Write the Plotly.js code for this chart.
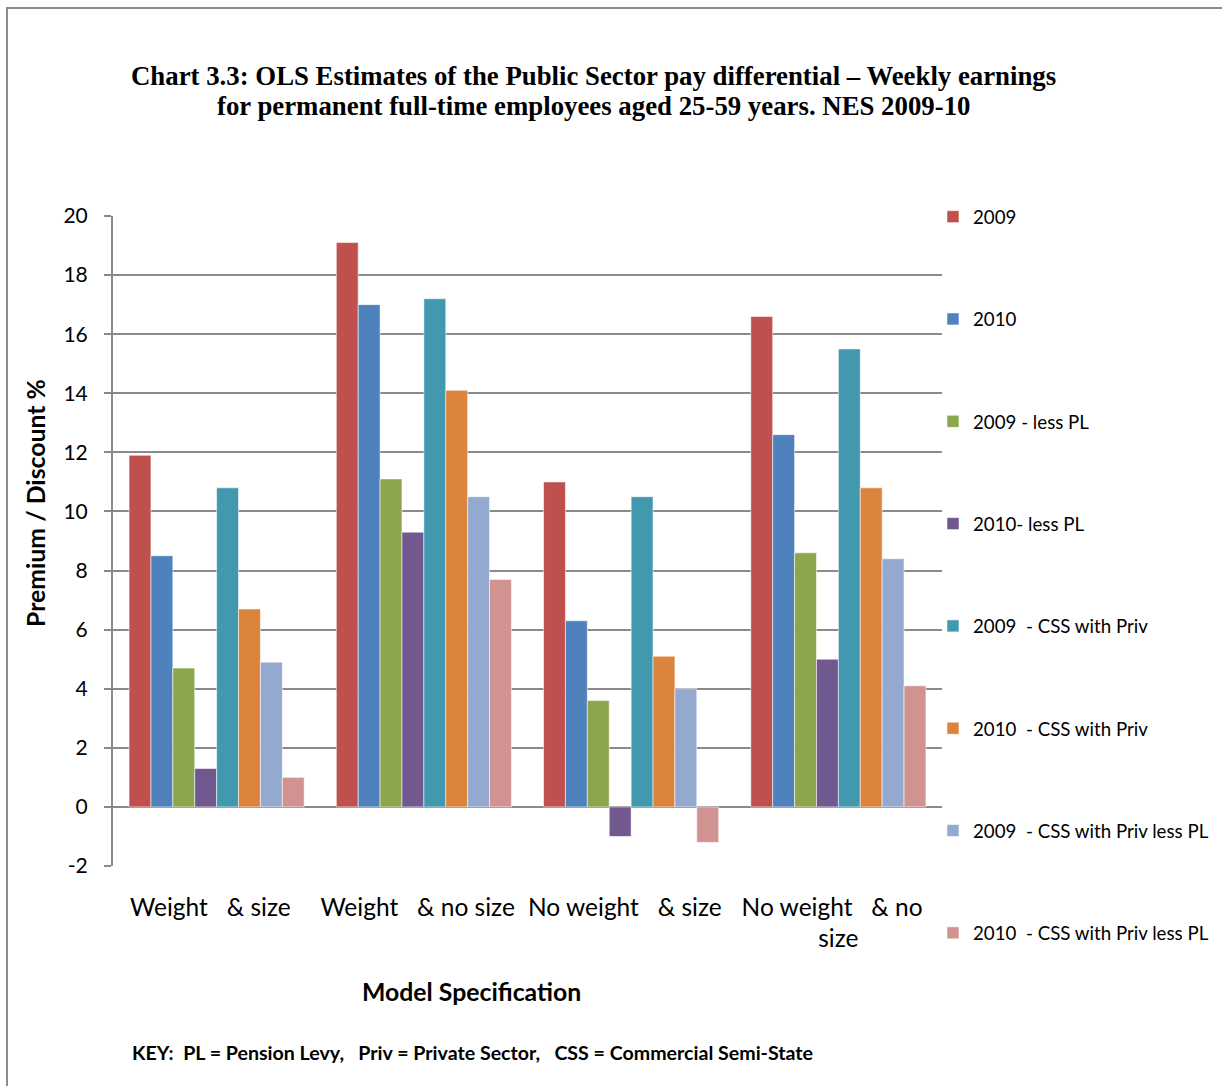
<!DOCTYPE html>
<html>
<head>
<meta charset="utf-8">
<script src="https://cdn.plot.ly/plotly-3.0.1.min.js"></script>
<style>
html,body{margin:0;padding:0;background:#fff;overflow:hidden;}
#frame{position:absolute;left:6px;top:7px;width:1400px;height:1300px;border:2px solid #8c8c8c;box-sizing:border-box;pointer-events:none;}
#chart{position:absolute;left:0;top:0;width:1222px;height:1086px;}
</style>
</head>
<body>
<div id="chart"></div>
<div id="frame"></div>
<script>
const categories = ["Weight &nbsp; & size&nbsp;&nbsp;", "Weight &nbsp; & no size&nbsp;&nbsp;", "No weight &nbsp; & size&nbsp;&nbsp;", "No weight &nbsp; & no&nbsp;&nbsp;<br>size"];
const seriesNames = ["2009", "2010", "2009 - less PL", "2010- less PL", "2009  - CSS with Priv", "2010  - CSS with Priv", "2009  - CSS with Priv less PL", "2010  - CSS with Priv less PL"];
const v2009 = [11.9, 19.1, 11.0, 16.6];
const v2010 = [8.5, 17.0, 6.3, 12.6];
const v2009LessPL = [4.7, 11.1, 3.6, 8.6];
const v2010LessPL = [1.3, 9.3, -1.0, 5.0];
const v2009CSS = [10.8, 17.2, 10.5, 15.5];
const v2010CSS = [6.7, 14.1, 5.1, 10.8];
const v2009CSSLessPL = [4.9, 10.5, 4.0, 8.4];
const v2010CSSLessPL = [1.0, 7.7, -1.2, 4.1];
const yTickVals = [-2, 0, 2, 4, 6, 8, 10, 12, 14, 16, 18, 20];
const yTickText = ["-2", "0", "2", "4", "6", "8", "10", "12", "14", "16", "18", "20"];
const titleLine1 = "Chart 3.3: OLS Estimates of the Public Sector pay differential – Weekly earnings";
const titleLine2 = "for permanent full-time employees aged 25-59 years. NES 2009-10";
const colors = ["#C0504D", "#4F81BD", "#8BA64D", "#71588F", "#4198AF", "#DB843D", "#93A9CF", "#D19392"];

const allValues = [v2009, v2010, v2009LessPL, v2010LessPL, v2009CSS, v2010CSS, v2009CSSLessPL, v2010CSSLessPL];
const traces = allValues.map((vals, i) => ({
  type: "bar",
  name: seriesNames[i],
  x: categories,
  y: vals,
  legendgroup: "g" + i,
  marker: {color: colors[i], line: {color: "rgba(255,255,255,0.55)", width: 1}},
  hoverinfo: "skip"
}));

const baseFont = "Lato, 'Open Sans', sans-serif";
const serif = "'Liberation Serif', 'Times New Roman', serif";
const px = x => (x - 113) / 829;
const py = y => (866 - y) / 650;
const layout = {
  width: 1222, height: 1086,
  paper_bgcolor: "rgba(0,0,0,0)", plot_bgcolor: "#fff",
  margin: {l: 113, r: 280, t: 216, b: 220, autoexpand: false},
  barmode: "group", bargap: 0.155, bargroupgap: 0,
  font: {family: baseFont, color: "#000"},
  showlegend: true,
  legend: {
    x: px(933), xanchor: "left", y: py(198), yanchor: "top",
    font: {family: baseFont, size: 18.7, color: "#000"},
    tracegroupgap: 75, bgcolor: "rgba(0,0,0,0)", itemwidth: 30, maxheight: 1
  },
  xaxis: {
    type: "category", showgrid: false, showline: false, ticks: "",
    tickangle: 0,
    tickfont: {family: baseFont, size: 24.5, color: "#000"},
    ticklabelstandoff: 24, fixedrange: true
  },
  yaxis: {
    range: [-2, 20], tickvals: yTickVals, ticktext: yTickText,
    showgrid: true, gridcolor: "#8a8a8a", gridwidth: 2,
    zeroline: true, zerolinecolor: "#8a8a8a", zerolinewidth: 2,
    showline: true, linecolor: "#8a8a8a", linewidth: 2,
    ticks: "outside", ticklen: 7, tickcolor: "#8a8a8a", tickwidth: 2,
    tickfont: {family: baseFont, size: 21, color: "#000"},
    ticklabelstandoff: 12, fixedrange: true
  },
  annotations: [
    {text: "<b>" + titleLine1 + "</b>",
     xref: "paper", yref: "paper", x: px(593), y: py(76), xanchor: "center", yanchor: "middle",
     showarrow: false, font: {family: serif, size: 26.8, color: "#000"}},
    {text: "<b>" + titleLine2 + "</b>",
     xref: "paper", yref: "paper", x: px(593), y: py(106), xanchor: "center", yanchor: "middle",
     showarrow: false, font: {family: serif, size: 26.8, color: "#000"}},
    {text: "<b>Premium / Discount %</b>", textangle: -90,
     xref: "paper", yref: "paper", x: px(35), y: py(503), xanchor: "center", yanchor: "middle",
     showarrow: false, font: {family: baseFont, size: 24.8, color: "#000"}},
    {text: "<b>Model Specification</b>",
     xref: "paper", yref: "paper", x: px(471), y: py(991), xanchor: "center", yanchor: "middle",
     showarrow: false, font: {family: baseFont, size: 24.8, color: "#000"}},
    {text: "<b>KEY:  PL = Pension Levy,   Priv = Private Sector,   CSS = Commercial Semi-State</b>",
     xref: "paper", yref: "paper", x: px(130), y: py(1052), xanchor: "left", yanchor: "middle",
     showarrow: false, font: {family: baseFont, size: 19.6, color: "#000"}}
  ]
};

Plotly.newPlot("chart", traces, layout, {displayModeBar: false, staticPlot: true});
</script>
</body>
</html>
